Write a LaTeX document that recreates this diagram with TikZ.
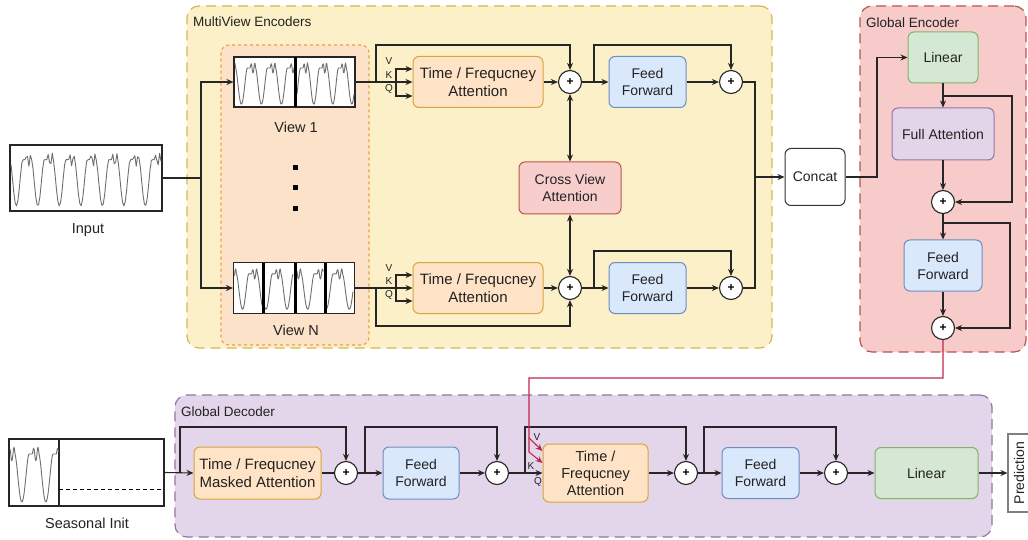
\documentclass[tikz,border=0pt]{standalone}
\usepackage{fontspec}
\setmainfont{Liberation Sans}
\usetikzlibrary{arrows.meta}

\definecolor{txt}{HTML}{222222}
\definecolor{encfill}{HTML}{FCF0C8}
\definecolor{encdraw}{HTML}{D6B656}
\definecolor{panfill}{HTML}{FCE2C9}
\definecolor{pandraw}{HTML}{EBA23C}
\definecolor{tff}{HTML}{FFE3C6}
\definecolor{tfd}{HTML}{D9A53A}
\definecolor{fff}{HTML}{DAE8FC}
\definecolor{ffd}{HTML}{6C8EBF}
\definecolor{cvf}{HTML}{F8CECC}
\definecolor{cvd}{HTML}{B85450}
\definecolor{gef}{HTML}{F8CBCB}
\definecolor{ged}{HTML}{B85450}
\definecolor{puf}{HTML}{E1D5E7}
\definecolor{pud}{HTML}{9673A6}
\definecolor{gdf}{HTML}{E3D6EA}
\definecolor{lnf}{HTML}{D5E8D4}
\definecolor{lnd}{HTML}{82B366}
\definecolor{redln}{HTML}{C2264B}
\definecolor{wavec}{HTML}{6E6E6E}

% periodic double-peaked signal used inside the series thumbnails
\newcommand\sigwave[6]{% x0, x1, ytop, ybot, period, phase
  \draw[wavy] plot[domain=#1:#2,samples=110,variable=\t]
    (\t,{#4-(#4-#3)*wv(mod(\t-#1+#6,#5)/#5)});}

\begin{document}
\begin{tikzpicture}[x=1pt,y=-1pt,
  declare function={
    sq(\xz)=\xz*\xz;
    bmp(\xa,\xc,\xw)=sq(max(0,1-sq((\xa-\xc)/\xw)));
    wv(\xa)=0.86-0.84*bmp(\xa,0.62,0.3)-0.12*bmp(\xa,0.2,0.06)
            +0.1*bmp(\xa,0.11,0.06)+0.12*bmp(\xa,0.29,0.05);
  },
  ln/.style={line width=1.1pt, draw=black!85},
  arr/.style={ln, -{Stealth[length=7pt,width=6pt]}},
  darr/.style={ln, {Stealth[length=7pt,width=6pt]}-{Stealth[length=7pt,width=6pt]}},
  redarr/.style={line width=1.1pt, draw=redln, -{Stealth[length=7pt,width=6pt]}},
  wavy/.style={draw=wavec, line width=0.9pt, line join=round},
  blk/.style={rounded corners=6pt, line width=1pt, align=center, inner sep=0pt,
    font=\fontsize{14}{17}\selectfont, text=txt},
  tf/.style={blk, draw=tfd, fill=tff, font=\fontsize{15}{18}\selectfont},
  ffb/.style={blk, draw=ffd, fill=fff},
  cvb/.style={blk, draw=cvd, fill=cvf},
  fab/.style={blk, draw=pud, fill=puf},
  linb/.style={blk, draw=lnd, fill=lnf},
  plainb/.style={blk, draw=black!80, fill=white},
  sum/.style={circle, draw=black!85, line width=1.1pt, fill=white, minimum size=23pt,
    inner sep=0pt, font=\fontsize{12}{12}\selectfont\bfseries},
  cont/.style={rounded corners=12pt, line width=1.2pt, dash pattern=on 10pt off 6pt, inner sep=0pt},
  lbl/.style={font=\fontsize{14.5}{17}\selectfont, text=txt, inner sep=0pt},
  ttl/.style={font=\fontsize{13.5}{16}\selectfont, text=txt, inner sep=0pt, anchor=west},
  vkq/.style={font=\fontsize{10}{10}\selectfont, text=txt, inner sep=0pt},
  series/.style={draw=black!85, line width=1.1pt, fill=white, inner sep=0pt},
  dotsq/.style={fill=black, minimum size=5pt, inner sep=0pt},
]
\useasboundingbox (0,0) rectangle (1028,540);

% ---------------- containers ----------------
\node[cont, fill=encfill, draw=encdraw, minimum width=585pt, minimum height=342pt] (menc) at (479.5,177) {};
\node[ttl] (menct) at (193,22) {MultiView Encoders};
\node[rounded corners=8pt, line width=1.1pt, dash pattern=on 3pt off 3pt, draw=pandraw, fill=panfill,
      minimum width=148pt, minimum height=300pt, inner sep=0pt] (views) at (295,195) {};
\node[cont, fill=gef, draw=ged, minimum width=166pt, minimum height=346pt] (genc) at (943,179) {};
\node[ttl] (genct) at (866,23) {Global Encoder};
\node[cont, fill=gdf, draw=pud, minimum width=817pt, minimum height=142pt] (gdec) at (583.5,466) {};
\node[ttl] (gdect) at (181,412) {Global Decoder};

% ---------------- input series ----------------
\node[series, minimum width=152pt, minimum height=66pt] (input) at (86,178) {};
\sigwave{11}{161}{152}{207}{21.5}{8}
\node[lbl] (inputl) at (88,230) {Input};

% ---------------- views ----------------
\node[series, minimum width=121pt, minimum height=50pt] (view1) at (294.5,82) {};
\sigwave{235}{294}{62}{105}{20}{6}
\sigwave{297}{354}{62}{105}{19}{14}
\draw[line width=3pt] (295.5,57) -- (295.5,107);
\node[lbl] (view1l) at (296,127) {View 1};

\node[dotsq] (dot1) at (295,168) {};
\node[dotsq] (dot2) at (295,188) {};
\node[dotsq] (dot3) at (295,209) {};

\node[series, minimum width=121pt, minimum height=51pt] (viewN) at (294,288) {};
\sigwave{234.5}{262}{268}{310}{21}{5}
\sigwave{265}{293}{268}{310}{21}{12}
\sigwave{297}{323}{268}{310}{22}{3}
\sigwave{327}{353}{268}{310}{23}{15}
\draw[line width=3pt] (263.5,263) -- (263.5,313);
\draw[line width=3pt] (295,263) -- (295,313);
\draw[line width=3pt] (325,263) -- (325,313);
\node[lbl] (viewNl) at (296,330) {View N};

\coordinate (split) at (201,178);
\draw[ln] (input.east) -- (split);
\draw[arr] (split) |- (view1.west);
\draw[arr] (split) |- (viewN.west);

% ---------------- upper encoder branch ----------------
\node[tf, minimum width=130pt, minimum height=51pt] (att1) at (478,82) {Time / Frequcney\\Attention};
\node[sum] (p1) at (570,82) {+};
\node[ffb, minimum width=77pt, minimum height=51pt] (ff1) at (647.5,82) {Feed\\Forward};
\node[sum] (p2) at (731,82) {+};

\node[vkq] (v1) at (389,61) {V};
\node[vkq] (k1) at (389,75) {K};
\node[vkq] (q1) at (389,89) {Q};

\coordinate (kq1) at (396,82);
\coordinate (res1) at (376,82);
\coordinate (res1t) at (376,45);
\coordinate (res2) at (594,82);
\coordinate (res2t) at (594,45);
\draw[ln] (view1.east) -- (kq1);
\draw[arr] (kq1) -- (att1.west);
\draw[arr] (kq1) |- ([yshift=13pt]att1.west);
\draw[arr] (kq1) |- ([yshift=-14pt]att1.west);
\draw[arr] (res1) -- (res1t) -| (p1.north);
\draw[arr] (att1) -- (p1);
\draw[arr] (p1) -- (ff1);
\draw[arr] (res2) -- (res2t) -| (p2.north);
\draw[arr] (ff1) -- (p2);

% ---------------- cross view attention ----------------
\node[cvb, minimum width=102pt, minimum height=52pt] (cv) at (570,188) {Cross View\\Attention};

% ---------------- lower encoder branch ----------------
\node[tf, minimum width=130pt, minimum height=51pt] (att2) at (478,288) {Time / Frequcney\\Attention};
\node[sum] (p3) at (570,288) {+};
\node[ffb, minimum width=77pt, minimum height=51pt] (ff2) at (647.5,288) {Feed\\Forward};
\node[sum] (p4) at (731,288) {+};

\node[vkq] (v2) at (389,268) {V};
\node[vkq] (k2) at (389,281) {K};
\node[vkq] (q2) at (389,295) {Q};

\coordinate (kq2) at (396,288);
\coordinate (res3) at (376,288);
\coordinate (res3b) at (376,326);
\coordinate (res4) at (594,288);
\coordinate (res4t) at (594,251);
\draw[ln] (viewN.east) -- (kq2);
\draw[arr] (kq2) -- (att2.west);
\draw[arr] (kq2) |- ([yshift=13pt]att2.west);
\draw[arr] (kq2) |- ([yshift=-13pt]att2.west);
\draw[arr] (res3) -- (res3b) -| (p3.south);
\draw[arr] (att2) -- (p3);
\draw[arr] (p3) -- (ff2);
\draw[arr] (res4) -- (res4t) -| (p4.north);
\draw[arr] (ff2) -- (p4);

\draw[darr] (p1.south) -- (cv.north);
\draw[darr] (p3.north) -- (cv.south);

% ---------------- concat ----------------
\node[plainb, minimum width=60pt, minimum height=57pt] (concat) at (815,177) {Concat};
\coordinate (mrg) at (755,177);
\draw[ln] (p2.east) -| (mrg);
\draw[ln] (p4.east) -| (mrg);
\draw[arr] (mrg) -- (concat.west);

% ---------------- global encoder ----------------
\node[linb, minimum width=70pt, minimum height=51pt] (lin1) at (943,57.5) {Linear};
\node[fab, minimum width=102pt, minimum height=52pt] (fa) at (943,134) {Full Attention};
\node[sum] (p5) at (943,202) {+};
\node[ffb, minimum width=78pt, minimum height=51pt] (ff3) at (943,265.5) {Feed\\Forward};
\node[sum] (p6) at (943,328) {+};

\coordinate (cbend) at (877,177);
\draw[arr] (concat.east) -- (cbend) |- (lin1.west);
\draw[arr] (lin1) -- (fa);
\coordinate (gr1) at (943,96);
\coordinate (gr1r) at (1012,96);
\draw[arr] (gr1) -- (gr1r) |- (p5.east);
\draw[arr] (fa) -- (p5);
\draw[arr] (p5) -- (ff3);
\coordinate (gr2) at (943,223);
\coordinate (gr2r) at (1010,223);
\draw[arr] (gr2) -- (gr2r) |- (p6.east);
\draw[arr] (ff3) -- (p6);

% ---------------- seasonal init ----------------
\node[series, minimum width=155pt, minimum height=67pt] (si) at (86.5,472.5) {};
\draw[line width=1.1pt, draw=black!85] (59,439) -- (59,506);
\sigwave{10}{58.5}{446}{503}{24}{3}
\draw[line width=1pt, dashed, dash pattern=on 4pt off 3pt] (59,489) -- (164,489);
\node[lbl] (sil) at (87,523) {Seasonal Init};

% ---------------- global decoder ----------------
\node[tf, minimum width=127pt, minimum height=52pt] (matt) at (257.5,473) {Time / Frequcney\\Masked Attention};
\node[sum] (p7) at (346,473) {+};
\node[ffb, minimum width=76pt, minimum height=52pt] (ff4) at (421,473) {Feed\\Forward};
\node[sum] (p8) at (497,473) {+};
\node[tf, minimum width=105pt, minimum height=58pt, font=\fontsize{14.5}{17}\selectfont] (att3) at (595.5,473) {Time /\\Frequcney\\Attention};
\node[sum] (p9) at (686,473) {+};
\node[ffb, minimum width=77pt, minimum height=51pt] (ff5) at (760.5,473) {Feed\\Forward};
\node[sum] (p10) at (836,473) {+};
\node[linb, minimum width=103pt, minimum height=51pt] (lin2) at (926.5,473) {Linear};
\node[blk, rotate=90, draw=black!50, fill=white, rounded corners=0pt, line width=1.1pt,
      minimum width=78pt, minimum height=22pt] (pred) at (1019,473) {Prediction};

\node[vkq] (v3) at (537,437) {V};
\node[vkq] (k3) at (531,466) {K};
\node[vkq] (q3) at (538,482) {Q};

\coordinate (dr1) at (180,473);
\coordinate (dr1t) at (180,427);
\coordinate (dr2) at (365,473);
\coordinate (dr2t) at (365,427);
\coordinate (dr3) at (525,473);
\coordinate (dr3t) at (525,427);
\coordinate (dr4) at (704,473);
\coordinate (dr4t) at (704,427);

\draw[arr] (si.east) -- (matt.west);
\draw[arr] (dr1) -- (dr1t) -| (p7.north);
\draw[ln] (matt) -- (p7);
\draw[arr] (p7) -- (ff4);
\draw[arr] (dr2) -- (dr2t) -| (p8.north);
\draw[arr] (ff4) -- (p8);
\draw[arr] (p8) -- (att3);
\draw[arr] (dr3) -- (dr3t) -| (p9.north);
\draw[arr] (att3) -- (p9);
\draw[arr] (p9) -- (ff5);
\draw[arr] (dr4) -- (dr4t) -| (p10.north);
\draw[arr] (ff5) -- (p10);
\draw[arr] (p10) -- (lin2);
\draw[arr] (lin2) -- (pred);

% encoder memory feeding the cross attention of the decoder
\coordinate (rdA) at (529,378);
\coordinate (rdV) at (529,438);
\coordinate (rdK) at (529,452);
\draw[redarr] (p6.south) |- (rdA) -- (rdK) -- ([yshift=10pt]att3.west);
\draw[redarr] (rdV) -- ([yshift=22pt]att3.west);
\end{tikzpicture}
\end{document}
